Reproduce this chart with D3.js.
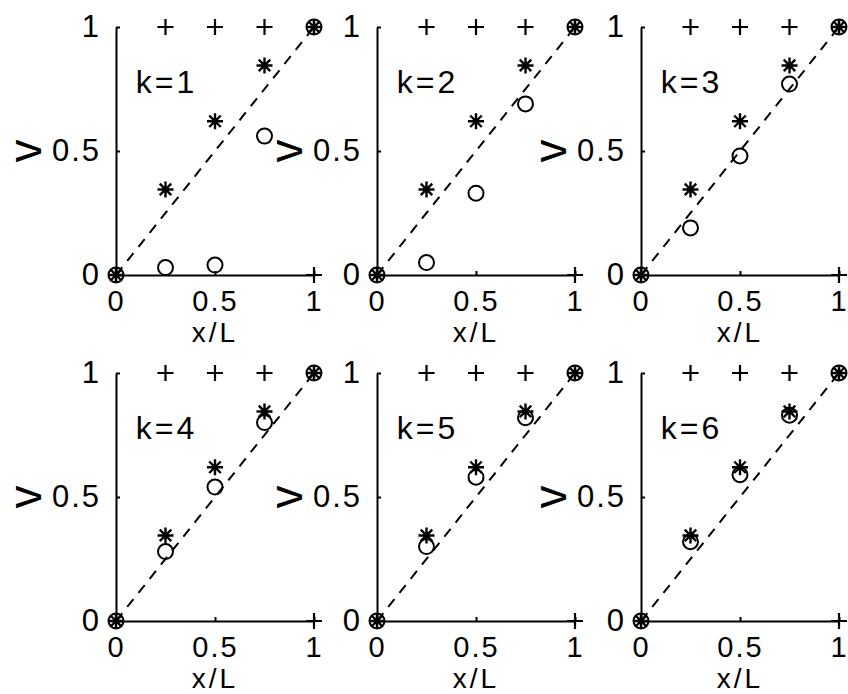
<!DOCTYPE html>
<html>
<head>
<meta charset="utf-8">
<script src="https://cdn.jsdelivr.net/npm/d3@7"></script>
<style>
  html, body { margin: 0; padding: 0; background: #fff; }
  svg { display: block; }
  text { font-family: "Liberation Sans Narrow", "Liberation Sans", sans-serif; fill: #000; }
</style>
</head>
<body>
<svg id="chart" width="848" height="694"></svg>
<script>
// Iteration index shown in each panel
const kValues = [1, 2, 3, 4, 5, 6];
// Grid nodes along x/L
const xNodes = [0, 0.25, 0.5, 0.75, 1];
// Reference solution (asterisks), identical in every panel
const starValues = [0, 0.345, 0.62, 0.845, 1];
// Iterate after k steps (open circles), one row per panel
const circleValues = [
  [0, 0.03, 0.04, 0.56, 1],
  [0, 0.05, 0.33, 0.69, 1],
  [0, 0.19, 0.48, 0.77, 1],
  [0, 0.28, 0.54, 0.80, 1],
  [0, 0.30, 0.58, 0.82, 1],
  [0, 0.32, 0.59, 0.83, 1]
];
// Starting guess (plus signs)
const plusX = [0, 0.25, 0.5, 0.75, 1, 1];
const plusY = [0, 1, 1, 1, 1, 0];
// Dashed diagonal v = x/L
const diagX = [0, 1];
const diagY = [0, 1];
// Tick values and labels
const tickValues = [0, 0.5, 1];
const tickLabels = ["0", "0.5", "1"];
const xLabel = "x/L";
const yLabel = "v";

const svg = d3.select("#chart");

const FONT = "Liberation Sans Narrow, Liberation Sans, sans-serif";
const colLeft = [116, 377, 641];
const rowTop = [27, 373];
const plotW = 198, plotH = 248;

const fmt = v => tickLabels[tickValues.indexOf(v)];

function plusPath(s) { return `M${-s},0H${s}M0,${-s}V${s}`; }
function starPath(s) {
  const d = s * 0.72;
  return `M${-s},0H${s}M0,${-s}V${s}M${-d},${-d}L${d},${d}M${-d},${d}L${d},${-d}`;
}

kValues.forEach((k, i) => {
  const col = i % 3, row = Math.floor(i / 3);
  const g = svg.append("g")
    .attr("transform", `translate(${colLeft[col]},${rowTop[row]})`);

  const x = d3.scaleLinear().domain([0, 1]).range([0, plotW]);
  const y = d3.scaleLinear().domain([0, 1]).range([plotH, 0]);

  // axes: inward ticks, no outer ticks
  const yAxis = g.append("g")
    .call(d3.axisLeft(y).tickValues(tickValues).tickFormat(fmt)
      .tickSizeInner(-4).tickSizeOuter(0).tickPadding(15));
  const xAxis = g.append("g")
    .attr("transform", `translate(0,${plotH})`)
    .call(d3.axisBottom(x).tickValues(tickValues).tickFormat(fmt)
      .tickSizeInner(-4).tickSizeOuter(0).tickPadding(15));
  [yAxis, xAxis].forEach(a => {
    a.select(".domain").attr("stroke", "#000").attr("stroke-width", 2);
    a.selectAll(".tick line").attr("stroke", "#000").attr("stroke-width", 2);
    a.selectAll(".tick text")
      .attr("font-family", FONT)
      .attr("letter-spacing", 2)
      .attr("fill", "#000");
  });
  yAxis.selectAll(".tick text").attr("font-size", 31);
  xAxis.selectAll(".tick text").attr("font-size", 29);

  // axis labels
  g.append("text")
    .attr("x", x(0.5)).attr("y", plotH + 67)
    .attr("text-anchor", "middle").attr("font-size", 28)
    .attr("letter-spacing", 3)
    .text(xLabel);
  g.append("text")
    .attr("transform", `translate(-87,${y(0.5)}) rotate(-90)`)
    .attr("text-anchor", "middle").attr("dy", "0.26em")
    .attr("font-family", "DejaVu Sans ExtraLight, Open Sans, Liberation Sans, sans-serif")
    .attr("font-weight", 300)
    .attr("font-size", 46)
    .text(yLabel);

  // panel label
  g.append("text")
    .attr("x", x(0.1)).attr("y", y(0.735))
    .attr("font-size", 32)
    .attr("letter-spacing", 3)
    .text(`k=${k}`);

  // dashed diagonal
  g.append("path")
    .datum(diagX.map((d, j) => [d, diagY[j]]))
    .attr("d", d3.line().x(d => x(d[0])).y(d => y(d[1])))
    .attr("fill", "none").attr("stroke", "#000")
    .attr("stroke-width", 2).attr("stroke-dasharray", "10,8");

  // plus markers
  g.selectAll(".plus").data(plusX.map((d, j) => [d, plusY[j]]))
    .join("path").attr("class", "plus")
    .attr("transform", d => `translate(${x(d[0])},${y(d[1])})`)
    .attr("d", plusPath(8))
    .attr("stroke", "#000").attr("stroke-width", 2.2).attr("fill", "none");

  // asterisk markers
  g.selectAll(".star").data(xNodes.map((d, j) => [d, starValues[j]]))
    .join("path").attr("class", "star")
    .attr("transform", d => `translate(${x(d[0])},${y(d[1])})`)
    .attr("d", starPath(8))
    .attr("stroke", "#000").attr("stroke-width", 2.4).attr("fill", "none");

  // circle markers
  g.selectAll(".circ").data(xNodes.map((d, j) => [d, circleValues[i][j]]))
    .join("circle").attr("class", "circ")
    .attr("cx", d => x(d[0])).attr("cy", d => y(d[1]))
    .attr("r", 7.5)
    .attr("stroke", "#000").attr("stroke-width", 2).attr("fill", "none");
});
</script>
</body>
</html>
